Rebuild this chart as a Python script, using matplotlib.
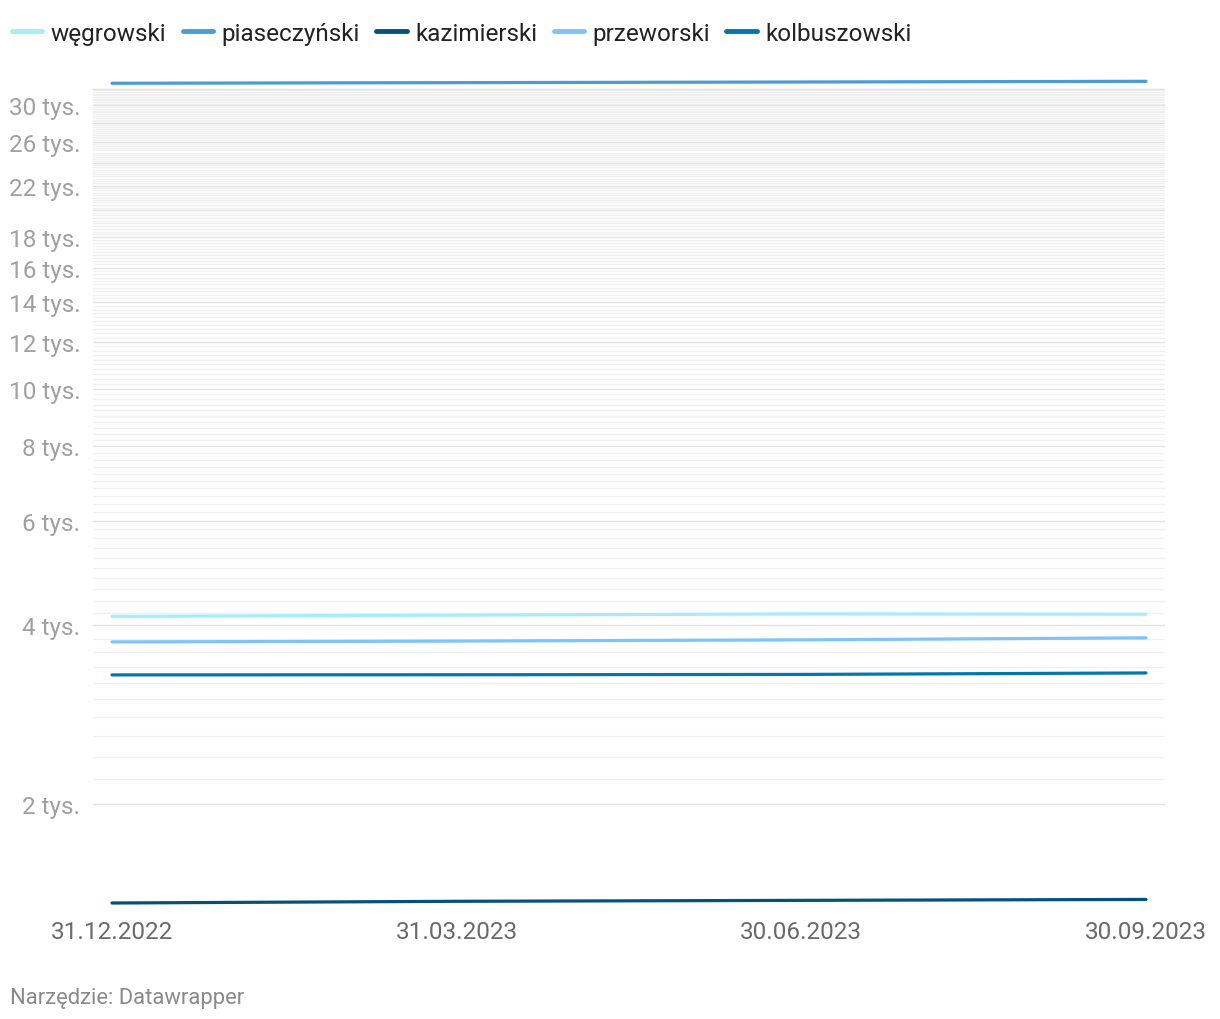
import numpy as np
import matplotlib.pyplot as plt
from matplotlib.ticker import FixedLocator, NullFormatter

plt.rcParams['font.family'] = ['Roboto', 'DejaVu Sans']

# Data
dates = ['31.12.2022', '31.03.2023', '30.06.2023', '30.09.2023']
wegrowski = [4140, 4160, 4180, 4175]
piaseczynski = [32700, 32780, 32860, 32950]
kazimierski = [1363, 1372, 1377, 1382]
przeworski = [3750, 3762, 3780, 3810]
kolbuszowski = [3300, 3302, 3306, 3325]

series = [
    ('węgrowski', wegrowski, '#a3edff'),
    ('piaseczyński', piaseczynski, '#4a9bd6'),
    ('kazimierski', kazimierski, '#03517f'),
    ('przeworski', przeworski, '#7cc4fb'),
    ('kolbuszowski', kolbuszowski, '#0576ab'),
]

major_ticks = list(range(2000, 32001, 2000))
label_ticks = [2000, 4000, 6000, 8000, 10000, 12000, 14000, 16000, 18000,
               22000, 26000, 30000]
minor_ticks = [v for v in range(2000, 32001, 200) if v not in major_ticks]

fig = plt.figure(figsize=(12.2, 10.2), dpi=100)
ax = fig.add_axes([93 / 1220, (1020 - 904) / 1020, 1072 / 1220, 821.7 / 1020])

x = np.arange(len(dates))

# gridlines
for v in minor_ticks:
    ax.axhline(v, color='#f0f0f0', lw=1.0, zorder=1)
for v in major_ticks:
    ax.axhline(v, color='#e2e2e2', lw=1.0, zorder=1)

for name, vals, col in series:
    ax.plot(x, vals, color=col, lw=2.3, solid_capstyle='round', label=name,
            zorder=3, clip_on=False)

ax.set_yscale('log')
ax.set_ylim(min(kazimierski), max(piaseczynski))
ax.set_xlim(-19 / 344.7, 3 + 19 / 344.7)

ax.yaxis.set_major_locator(FixedLocator(label_ticks))
ax.yaxis.set_minor_locator(FixedLocator([]))
ax.yaxis.set_minor_formatter(NullFormatter())
ax.set_yticklabels([f'{v // 1000} tys.' for v in label_ticks])
ax.tick_params(axis='y', length=0, pad=9, labelsize=17.5, labelcolor='#a0a0a0')

ax.set_xticks(x)
ax.set_xticklabels(dates)
ax.tick_params(axis='x', length=0, pad=12, labelsize=17.5, labelcolor='#6a6a6a')

for s in ax.spines.values():
    s.set_visible(False)

handles, labels = ax.get_legend_handles_labels()
leg = fig.legend(handles, labels, loc='upper left',
                 bbox_to_anchor=(12 / 1220, 1 - 23 / 1020),
                 ncol=5, frameon=False, fontsize=17.5, handlelength=1.25,
                 handletextpad=0.34, columnspacing=0.68, borderaxespad=0,
                 borderpad=0)
for h in leg.legend_handles:
    h.set_linewidth(3.5)
for t in leg.get_texts():
    t.set_color('#222222')

fig.text(10 / 1220, 1 - 999 / 1020, 'Narzędzie: Datawrapper', fontsize=15.8,
         color='#8a8a8a', va='center', ha='left')

fig.savefig('out.png', dpi=100)
